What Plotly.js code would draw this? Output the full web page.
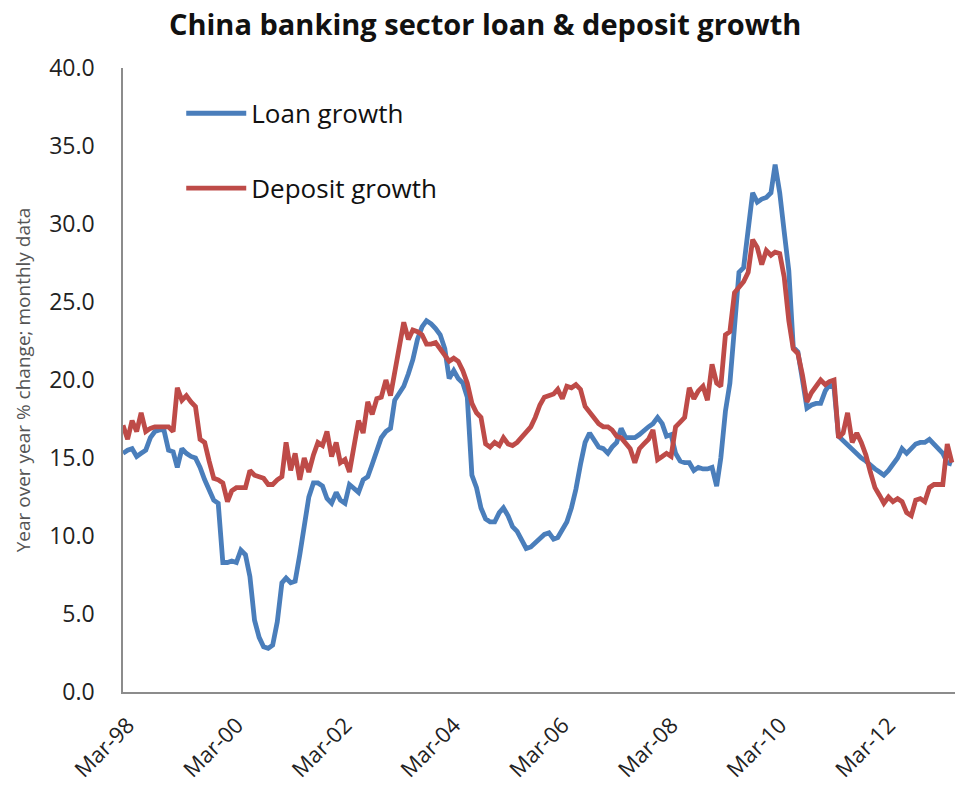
<!DOCTYPE html>
<html>
<head>
<meta charset="utf-8">
<script src="https://cdn.plot.ly/plotly-3.0.1.min.js"></script>
<style>html,body{margin:0;padding:0;background:#fff;}#chart{width:955px;height:796px;}</style>
</head>
<body>
<div id="chart"></div>
<script>
// Monthly series starting Mar-1998 (year-over-year % change)
const startMonth = '1998-03';
const loanGrowth = [
15.3,15.5,15.6,15.1,15.3,15.5,16.3,16.7,16.8,16.8,15.5,15.4,14.4,15.6,15.3,15.1,15.0,14.4,13.6,12.9,
12.3,12.1,8.3,8.3,8.4,8.3,9.1,8.8,7.4,4.6,3.5,2.9,2.8,3.0,4.5,7.0,7.3,7.0,7.1,8.8,
10.8,12.5,13.4,13.4,13.2,12.4,12.1,12.8,12.3,12.1,13.3,13.0,12.8,13.6,13.8,14.6,15.5,16.3,16.7,16.9,
18.7,19.2,19.6,20.4,21.3,22.6,23.4,23.8,23.6,23.3,22.9,22.0,20.1,20.6,20.1,19.8,18.9,13.9,13.1,11.8,
11.1,10.9,10.9,11.5,11.8,11.3,10.6,10.3,9.7,9.2,9.3,9.6,9.9,10.1,10.2,9.8,9.9,10.4,10.9,11.8,
13.0,14.6,16.0,16.6,16.2,15.7,15.6,15.3,15.7,16.0,16.9,16.3,16.3,16.3,16.5,16.8,17.0,17.2,17.6,17.2,
16.4,16.5,15.3,14.8,14.7,14.7,14.2,14.4,14.3,14.3,14.4,13.2,15.0,18.0,19.8,23.4,26.9,27.2,29.4,32.0,
31.4,31.6,31.7,32.0,33.8,32.0,29.5,27.0,22.1,21.8,20.0,18.2,18.4,18.5,18.5,19.3,19.7,19.5,16.4,16.1,
15.9,15.6,15.3,15.0,14.8,14.5,14.3,14.1,13.9,14.2,14.6,15.0,15.6,15.3,15.6,15.9,16.0,16.0,16.2,15.9,
15.6,15.3,14.7,14.6
];
const depositGrowth = [
17.1,16.2,17.4,16.7,17.9,16.7,16.9,17.0,17.0,17.0,17.0,16.7,19.5,18.7,19.0,18.6,18.3,16.2,16.0,14.8,
13.7,13.6,13.4,12.2,12.9,13.1,13.1,13.1,14.2,13.9,13.8,13.7,13.3,13.3,13.6,13.8,16.0,14.2,15.3,13.6,
15.0,14.1,15.2,16.0,15.8,16.7,15.1,16.0,14.7,14.9,14.1,15.6,17.4,16.6,18.6,17.8,18.8,18.9,20.0,19.0,
20.6,22.0,23.7,22.6,23.2,23.1,22.9,22.3,22.3,22.4,22.0,21.7,21.2,21.4,21.2,20.6,19.8,18.5,17.9,17.6,
15.9,15.7,16.0,15.8,16.3,15.9,15.8,16.0,16.3,16.7,17.0,17.6,18.4,18.9,19.0,19.1,19.4,18.8,19.6,19.5,
19.7,19.4,18.3,17.9,17.6,17.2,17.0,17.0,16.8,16.4,16.3,15.9,15.6,14.7,15.6,15.9,16.2,16.8,14.9,15.1,
15.3,15.1,17.0,17.3,17.6,19.5,18.8,19.3,19.6,18.7,21.0,19.8,19.6,22.9,23.1,25.6,26.0,26.3,26.9,29.0,
28.5,27.4,28.3,28.0,28.2,28.1,26.6,23.8,22.0,21.7,20.3,18.6,19.2,19.6,20.0,19.7,19.9,20.0,16.3,16.6,
17.9,16.0,16.6,16.0,15.2,14.1,13.1,12.6,12.1,12.5,12.2,12.4,12.2,11.5,11.3,12.3,12.4,12.2,13.1,13.3,
13.3,13.3,15.9,14.7
];
const tickDates = ['1998-03-01','2000-03-01','2002-03-01','2004-03-01','2006-03-01','2008-03-01','2010-03-01','2012-03-01'];
const tickLabels = ['Mar-98','Mar-00','Mar-02','Mar-04','Mar-06','Mar-08','Mar-10','Mar-12'];

// month categories
const months = [];
(function(){
  let y = parseInt(startMonth.slice(0,4)), m = parseInt(startMonth.slice(5,7));
  for (let i = 0; i < loanGrowth.length; i++) {
    months.push(y + '-' + String(m).padStart(2,'0') + '-01');
    m++; if (m > 12) { m = 1; y++; }
  }
})();

const FONT = '"Open Sans", "Noto Sans", sans-serif';

const traces = [
  {x: months, y: loanGrowth, type: 'scatter', mode: 'lines', name: 'Loan growth',
   line: {color: '#4A7EBB', width: 4.8}, legendgroup: 'a'},
  {x: months, y: depositGrowth, type: 'scatter', mode: 'lines', name: 'Deposit growth',
   line: {color: '#BE4B48', width: 4.8}, legendgroup: 'b'}
];

const layout = {
  width: 955, height: 796,
  margin: {l: 123, r: 0, t: 68, b: 104},
  paper_bgcolor: '#fff', plot_bgcolor: '#fff',
  font: {family: FONT, color: '#222'},
  title: {text: '<b>China banking sector loan &amp; deposit growth</b>',
          font: {family: FONT, size: 29, color: '#111'},
          x: 0.508, xref: 'container', xanchor: 'center',
          y: 0.969, yref: 'container', yanchor: 'middle'},
  xaxis: {type: 'date', range: ['1998-03-01', '2013-06-22'],
          tickvals: tickDates, ticktext: tickLabels, tickangle: -45,
          tickfont: {size: 22, color: '#222'}, showgrid: false, zeroline: false,
          showline: true, linecolor: '#8c8c8c', linewidth: 1.5, ticks: '',
          ticklabelstandoff: 10, ticklabelshift: 5},
  yaxis: {range: [0, 40], dtick: 5, tick0: 0, tickformat: '.1f',
          tickfont: {size: 23, color: '#222'}, showgrid: false, zeroline: false,
          showline: true, linecolor: '#8c8c8c', linewidth: 1.5, ticks: '',
          ticklabelstandoff: 22,
          title: {text: 'Year over year % change; monthly data',
                  font: {size: 19, color: '#555'}, standoff: 14}},
  showlegend: true,
  legend: {x: 0.07, xanchor: 'left', y: 0.965, yanchor: 'top',
           font: {size: 26, color: '#111'}, bgcolor: 'rgba(0,0,0,0)',
           traceorder: 'grouped', tracegroupgap: 38, itemwidth: 60}
};

Plotly.newPlot('chart', traces, layout, {displayModeBar: false, responsive: false});
</script>
</body>
</html>
